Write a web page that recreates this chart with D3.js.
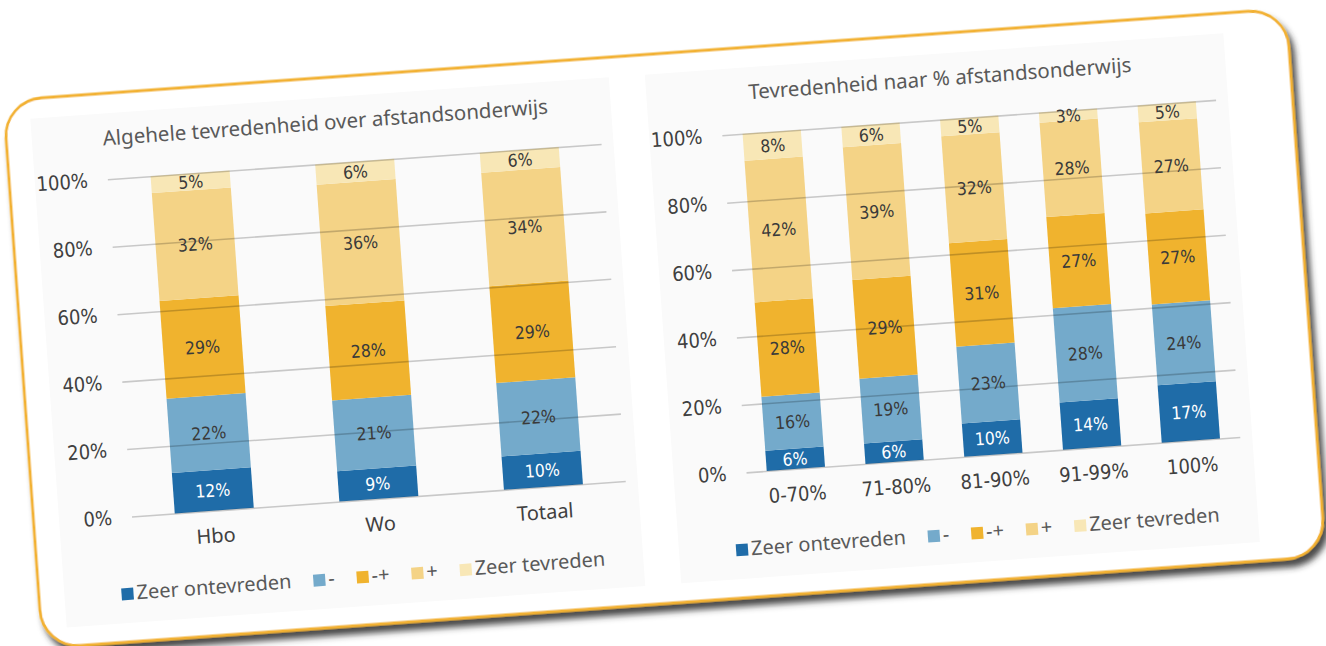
<!DOCTYPE html>
<html><head><meta charset="utf-8">
<script src="https://cdn.jsdelivr.net/npm/d3@7"></script>
<style>html,body{margin:0;padding:0;background:#fff;} svg{display:block}</style>
</head><body>
<svg id="c" width="1326" height="646"></svg>
<script>
// ---- data ----
const seriesNames = ["Zeer ontevreden", "-", "-+", "+", "Zeer tevreden"];
const seriesColors = ["#1f6ca8", "#74aacb", "#f0b32e", "#f4d386", "#f8e7b6"];
const yTicks = [0, 0.2, 0.4, 0.6, 0.8, 1];

const leftTitle = "Algehele tevredenheid over afstandsonderwijs";
const leftCategories = ["Hbo", "Wo", "Totaal"];
const leftZeerOntevreden = [12, 9, 10];
const leftMin = [22, 21, 22];
const leftNeutraal = [29, 28, 29];
const leftPlus = [32, 36, 34];
const leftZeerTevreden = [5, 6, 6];

const rightTitle = "Tevredenheid naar % afstandsonderwijs";
const rightCategories = ["0-70%", "71-80%", "81-90%", "91-99%", "100%"];
const rightZeerOntevreden = [6, 6, 10, 14, 17];
const rightMin = [16, 19, 23, 28, 24];
const rightNeutraal = [28, 29, 31, 27, 27];
const rightPlus = [42, 39, 32, 28, 27];
const rightZeerTevreden = [8, 6, 5, 3, 5];

// ---- layout ----
const svg = d3.select("#c");
const defs = svg.append("defs");
const f = defs.append("filter").attr("id", "sh").attr("x", "-5%").attr("y", "-5%").attr("width", "115%").attr("height", "120%");
f.append("feDropShadow").attr("dx", 4).attr("dy", 7).attr("stdDeviation", 3)
  .attr("flood-color", "#2b2b2b").attr("flood-opacity", 0.85);

const root = svg.append("g").attr("transform", "rotate(-4.1,663,323)");

root.append("rect").attr("x", 21).attr("y", 54).attr("width", 1286).attr("height", 549)
  .attr("rx", 38).attr("fill", "#fff").attr("stroke", "#f2b130").attr("stroke-width", 2.8)
  .attr("filter", "url(#sh)");

const WORD_FONT = "'Noto Sans', 'Open Sans', sans-serif";
const NUM_FONT = "'Liberation Sans Narrow', 'DejaVu Sans Condensed', 'Noto Sans', sans-serif";

function drawChart(ox, title, categories, arrays, pad, numericCats) {
  const plotW = 495;
  const y0 = 478, y1 = 140;
  const g = root.append("g");

  g.append("rect").attr("x", ox - 73).attr("y", 74).attr("width", 580).attr("height", 510)
    .attr("fill", "#fafafa");

  const rows = categories.map((c, i) => {
    const o = { cat: c };
    seriesNames.forEach((s, k) => o[s] = arrays[k][i]);
    return o;
  });
  const stack = d3.stack().keys(seriesNames).offset(d3.stackOffsetExpand);
  const stacked = stack(rows);

  const x = d3.scaleBand().domain(categories).range([ox, ox + plotW])
    .paddingInner(pad).paddingOuter(pad / 2);
  const y = d3.scaleLinear().domain([0, 1]).range([y0, y1]);

  // bars
  const layers = g.selectAll("g.layer").data(stacked).join("g")
    .attr("fill", (d, i) => seriesColors[i]);
  layers.selectAll("rect").data(d => d).join("rect")
    .attr("x", d => x(d.data.cat))
    .attr("width", x.bandwidth())
    .attr("y", d => y(d[1]))
    .attr("height", d => y(d[0]) - y(d[1]));

  // gridlines + y labels (drawn over bars)
  const yAxis = d3.axisLeft(y).tickValues(yTicks).tickFormat(d3.format(".0%"))
    .tickSizeInner(-plotW).tickSizeOuter(0).tickPadding(20);
  const ya = g.append("g").attr("transform", `translate(${ox},0)`).call(yAxis);
  ya.select(".domain").remove();
  ya.selectAll(".tick line").attr("stroke", "#000").attr("stroke-opacity", 0.2).attr("stroke-width", 1.6);
  ya.selectAll(".tick text").attr("fill", "#404040").style("font-family", NUM_FONT).style("font-size", "20px");

  // bar value labels
  stacked.forEach((layer, k) => {
    g.append("g").selectAll("text").data(layer).join("text")
      .attr("x", d => x(d.data.cat) + x.bandwidth() / 2)
      .attr("y", d => (y(d[0]) + y(d[1])) / 2)
      .attr("dy", "0.36em")
      .attr("text-anchor", "middle")
      .attr("fill", k === 0 ? "#ffffff" : "#3a3a3a")
      .style("font-family", NUM_FONT).style("font-size", "17.5px")
      .text(d => d.data[seriesNames[k]] + "%");
  });

  // x axis labels
  const xAxis = d3.axisBottom(x).tickSize(0).tickPadding(18);
  const xa = g.append("g").attr("transform", `translate(0,${y0})`).call(xAxis);
  xa.select(".domain").remove();
  xa.selectAll(".tick text").attr("fill", "#404040")
    .style("font-family", numericCats ? NUM_FONT : WORD_FONT).style("font-size", "20px");

  // title
  g.append("text").attr("x", ox + 221).attr("y", 106).attr("text-anchor", "middle")
    .attr("fill", "#595959").style("font-family", WORD_FONT).style("font-size", "20.5px")
    .text(title);

  // legend
  const lg = g.append("g");
  const items = seriesNames.map((s, i) => {
    const it = lg.append("g");
    it.append("rect").attr("width", 12).attr("height", 12).attr("y", -12).attr("fill", seriesColors[i]);
    const t = it.append("text").attr("x", 15).attr("fill", "#595959")
      .style("font-family", WORD_FONT).style("font-size", "20px").text(s);
    return { it, w: 15 + t.node().getComputedTextLength() };
  });
  const gap = 22;
  const total = d3.sum(items, d => d.w) + gap * (items.length - 1);
  let cx = ox + 226.5 - total / 2;
  items.forEach(d => { d.it.attr("transform", `translate(${cx},561)`); cx += d.w + gap; });
}

drawChart(119.5, leftTitle, leftCategories,
  [leftZeerOntevreden, leftMin, leftNeutraal, leftPlus, leftZeerTevreden], 0.52, false);
drawChart(735.6, rightTitle, rightCategories,
  [rightZeerOntevreden, rightMin, rightNeutraal, rightPlus, rightZeerTevreden], 0.41, true);
</script>
</body></html>
